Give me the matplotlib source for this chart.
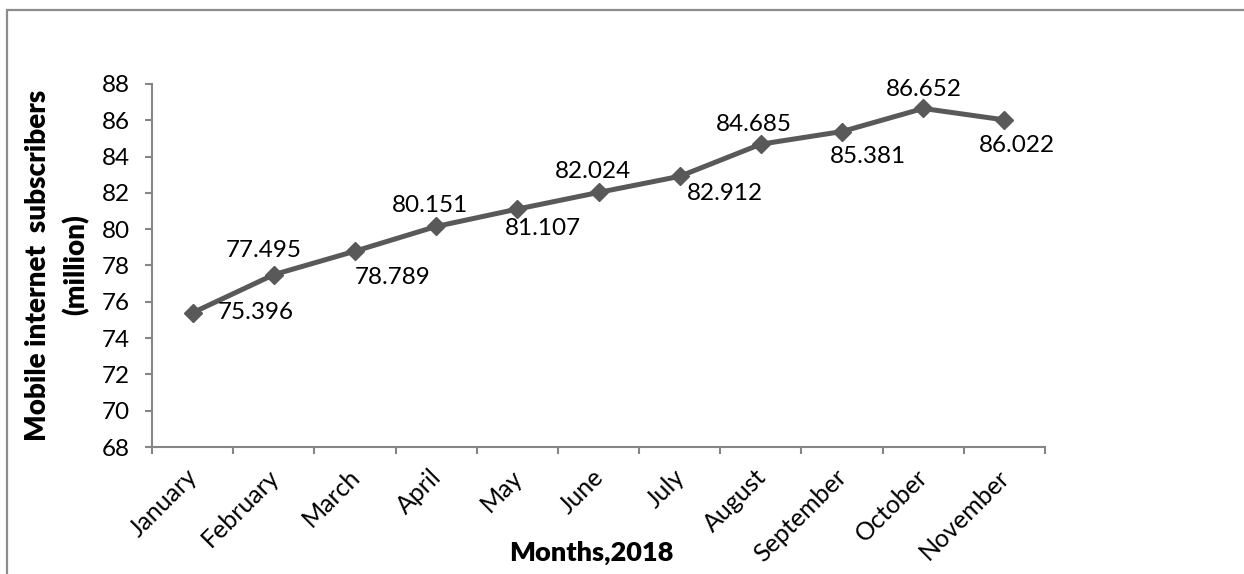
import matplotlib.pyplot as plt
import matplotlib.patches as patches
import matplotlib.transforms as mtransforms
import numpy as np

months = ['January', 'February', 'March', 'April', 'May', 'June', 'July',
          'August', 'September', 'October', 'November']
subscribers = [75.396, 77.495, 78.789, 80.151, 81.107, 82.024, 82.912,
               84.685, 85.381, 86.652, 86.022]
y_ticks = [68, 70, 72, 74, 76, 78, 80, 82, 84, 86, 88]

# label placement (pixels, relative to marker)
label_offsets = [(63, 0), (-10, 24), (38, -26), (-6, 21), (26, -19), (-6, 21),
                 (45, -17), (-7, 20), (26, -25), (1, 19), (13, -26)]

plt.rcParams['font.family'] = ['Lato', 'DejaVu Sans']

fig = plt.figure(figsize=(12.44, 5.74), dpi=100)
ax = fig.add_axes([152 / 1244, 1 - 447 / 574, (1045 - 152) / 1244, (447 - 84) / 574])

x = np.arange(len(months))
ax.plot(x, subscribers, color='#595959', linewidth=3.6, marker='D', markersize=9,
        markeredgecolor='#595959', markerfacecolor='#595959')

for xi, yi, (dx, dy) in zip(x, subscribers, label_offsets):
    ax.annotate(f'{yi:.3f}', (xi, yi), xytext=(dx, dy), textcoords='offset pixels',
                ha='center', va='center', fontsize=17.5, color='black')

ax.set_xlim(-0.5, len(months) - 0.5)
ax.set_ylim(68, 88)
ax.set_yticks(y_ticks)
ax.set_yticklabels([str(v) for v in y_ticks])

# category boundaries as major ticks, labels on minor ticks
ax.set_xticks(np.arange(-0.5, len(months)))
ax.set_xticklabels([])
ax.set_xticks(x, minor=True)
ax.set_xticklabels(months, minor=True, rotation=45, ha='right',
                   rotation_mode='anchor', fontsize=18)
ax.tick_params(axis='x', which='minor', length=0, pad=13)
ax.tick_params(axis='x', which='major', length=5, width=1.5, color='#868686',
               direction='out')
ax.tick_params(axis='y', length=5, width=1.5, color='#868686', direction='out',
               labelsize=17.5, pad=11)
shift = mtransforms.ScaledTranslation(-5 / 72, 0, fig.dpi_scale_trans)
for lab in ax.get_xticklabels(minor=True):
    lab.set_transform(lab.get_transform() + shift)

for side in ['top', 'right']:
    ax.spines[side].set_visible(False)
for side in ['left', 'bottom']:
    ax.spines[side].set_color('#868686')
    ax.spines[side].set_linewidth(1.5)

fig.text(591 / 1244, 1 - 553 / 574, 'Months,2018', ha='center', va='center',
         fontsize=19.5, fontweight='heavy')
fig.text(57 / 1244, 1 - 265 / 574, 'Mobile internet  subscribers\n(million)',
         ha='center', va='center', rotation=90, fontsize=20, fontweight='heavy',
         multialignment='center', linespacing=1.5)

# outer chart border
border = patches.Rectangle((7.5 / 1244, -0.1), 1.2, 1 - 10 / 574 + 0.1,
                           transform=fig.transFigure, fill=False,
                           edgecolor='#8c8c8c', linewidth=1.6, clip_on=False)
fig.patches.append(border)

fig.savefig('out.png', dpi=100)
